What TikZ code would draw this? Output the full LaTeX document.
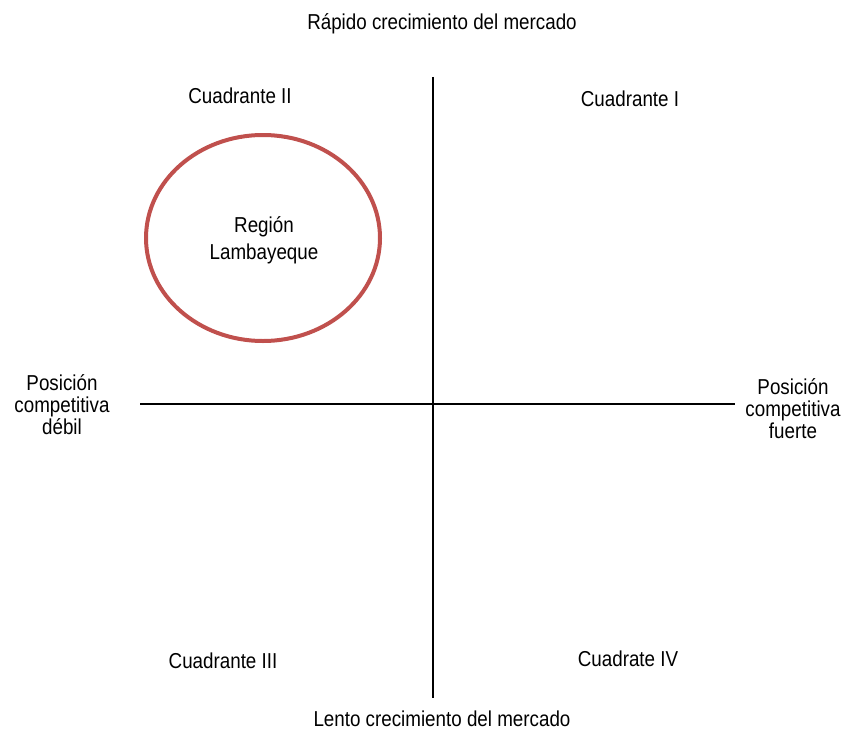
\documentclass[tikz,border=0pt]{standalone}
\usepackage{fontspec}
\setmainfont{Liberation Sans}[FakeStretch=0.87]
\usepackage{tikz}
\usetikzlibrary{positioning}
\usetikzlibrary{shapes}
\definecolor{regionred}{RGB}{192,80,77}

\begin{document}
\begin{tikzpicture}[x=0.5pt,y=-0.5pt,
  label/.style={font=\fontsize{10.8}{11}\selectfont,align=center,inner sep=0pt},
  axis/.style={line width=1pt,black}]
\useasboundingbox (0,0) rectangle (845,733);
% ejes
\coordinate (top) at (433,77);
\coordinate (bottom) at (433,698);
\coordinate (left) at (140,404);
\coordinate (right) at (735,404);
\draw[axis] (top) -- (bottom);
\draw[axis] (left) -- (right);
% textos de los ejes
\node[label] (rapido) at (442,24) {Rápido crecimiento del mercado};
\node[label] (lento) at (442,719) {Lento crecimiento del mercado};
\node[label] (debil) at (62,405) {Posición\\competitiva\\débil};
\node[label] (fuerte) at (793,409) {Posición\\competitiva\\fuerte};
% cuadrantes
\node[label] (c2) at (240,96) {Cuadrante II};
\node[label] (c1) at (630,99) {Cuadrante I};
\node[label] (c3) at (223,661) {Cuadrante III};
\node[label] (c4) at (628,659) {Cuadrate IV};
% region
\node[ellipse,draw=regionred,line width=2pt,minimum width=117pt,minimum height=103pt] (region) at (263,238) {};
\node[label,font=\fontsize{10.8}{13.5}\selectfont] (lamb) at (264,240) {Región\\Lambayeque};
\end{tikzpicture}
\end{document}
